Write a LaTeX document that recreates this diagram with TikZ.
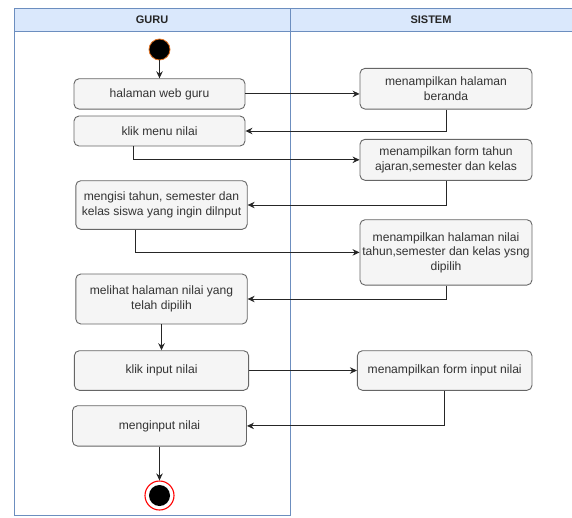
\documentclass[tikz,border=0pt]{standalone}
\usepackage{fontspec}
\setmainfont{Liberation Sans}
\usetikzlibrary{arrows.meta,calc}
\definecolor{laneblue}{HTML}{6C8EBF}
\definecolor{headfill}{HTML}{DAE8FC}
\definecolor{boxfill}{HTML}{F5F5F5}
\definecolor{boxline}{HTML}{666666}
\definecolor{txt}{HTML}{333333}
\definecolor{startedge}{HTML}{E07020}
\tikzset{
  act/.style={draw=boxline, fill=boxfill, rounded corners=5pt, line width=0.9pt,
    align=center, text=txt, inner sep=1pt,
    font=\fontsize{12.1}{14.5}\selectfont},
  flow/.style={draw=black!85, line width=0.9pt, -{Stealth[length=7pt,width=6.5pt]}},
  lane/.style={draw=laneblue, line width=1pt},
  head/.style={font=\bfseries\fontsize{11}{12}\selectfont, text=black!85}
}
\begin{document}
\begin{tikzpicture}[x=1pt,y=-1pt]
\useasboundingbox (0,0) rectangle (572,517);
% swimlanes
\begin{scope}
\clip (0,0) rectangle (572,517);
\fill[headfill] (14,8) rectangle (600,31.5);
\draw[lane] (600,8) -- (14,8) -- (14,515) -- (290,515) -- (290,8);
\draw[lane] (14,31.5) -- (600,31.5);
\end{scope}
\node[head] (hguru) at (152,20) {GURU};
\node[head] (hsis) at (431,20) {SISTEM};

% start and end
\node[circle, fill=black, draw=startedge, line width=0.8pt, minimum size=21pt, inner sep=0pt] (start) at (159.5,49.5) {};
\node[circle, draw=red, fill=white, line width=1.1pt, minimum size=29pt, inner sep=0pt] (end) at (159.5,495.5) {};
\node[circle, fill=black, minimum size=21pt, inner sep=0pt] (endin) at (end.center) {};

% activities
\node[act, minimum width=171pt, minimum height=30.3pt] (web) at (159.5,93.9) {halaman web guru};
\node[act, minimum width=172pt, minimum height=40.7pt] (beranda) at (446,88.7) {menampilkan halaman\\beranda};
\node[act, minimum width=171pt, minimum height=30pt] (menu) at (159.5,131) {klik menu nilai};
\node[act, minimum width=172pt, minimum height=41pt] (formth) at (446,159.8) {menampilkan form tahun\\ajaran,semester dan kelas};
\node[act, minimum width=171.4pt, minimum height=48.6pt] (isi) at (161.5,205) {mengisi tahun, semester dan\\kelas siswa yang ingin dilnput};
\node[act, minimum width=172pt, minimum height=65.3pt, inner sep=0pt] (hnilai) at (446,252.4) {menampilkan halaman nilai\\tahun,semester dan kelas ysng\\dipilih};
\node[act, minimum width=171.4pt, minimum height=50pt] (lihat) at (161.5,299) {melihat halaman nilai yang\\telah dipilih};
\node[act, minimum width=174.3pt, minimum height=39.6pt] (klikin) at (161.5,370.5) {klik input nilai};
\node[act, minimum width=174.6pt, minimum height=39.6pt] (formin) at (444.7,370.5) {menampilkan form input nilai};
\node[act, minimum width=174pt, minimum height=40.3pt] (inputn) at (159.5,425.9) {menginput nilai};

% flows
\draw[flow] (start) -- (web);
\draw[flow] (web.east) -- (web.east -| beranda.west);
\draw[flow] (beranda.south) |- (menu.east);
\draw[flow] ([xshift=-26pt]menu.south) |- (formth.west);
\draw[flow] (formth.south) |- (isi.east);
\draw[flow] ([xshift=-25.8pt]isi.south) |- (hnilai.west);
\draw[flow] (hnilai.south) |- (lihat.east);
\draw[flow] (lihat.south) -- (klikin.north);
\draw[flow] (klikin.east) -- (formin.west);
\draw[flow] (formin.south) |- (inputn.east);
\draw[flow] (inputn.south) -- (end.north);
\end{tikzpicture}
\end{document}
